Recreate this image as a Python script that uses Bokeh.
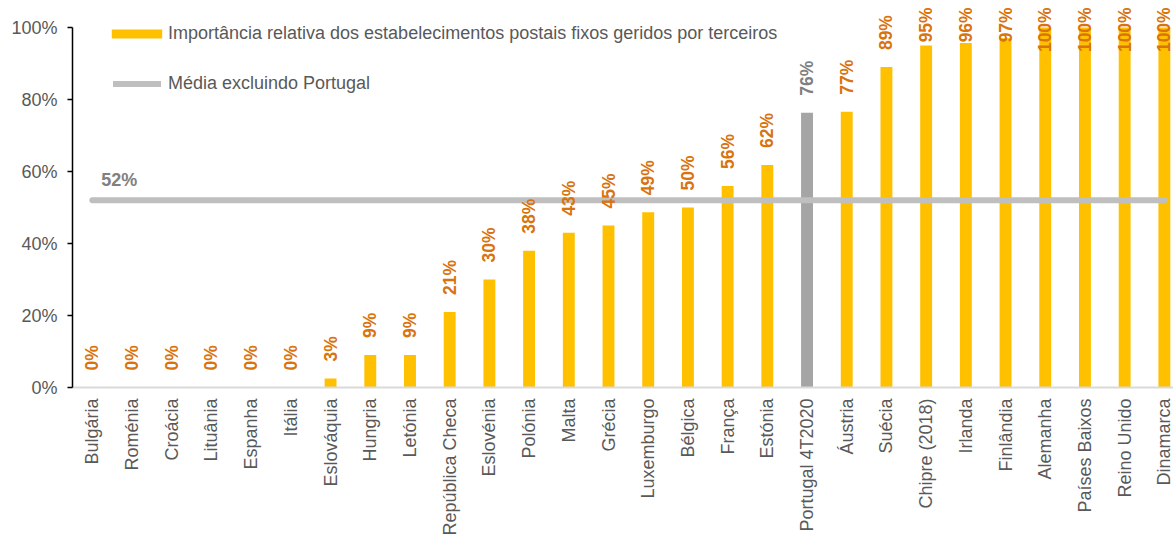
import math
from bokeh.plotting import figure
from bokeh.models import (Range1d, ColumnDataSource, Legend, LegendItem,
                          PrintfTickFormatter, FixedTicker)
from bokeh.core.properties import value
from bokeh.embed import file_html
from bokeh.resources import INLINE

# ---------------- data ----------------
countries = ["Bulgária", "Roménia", "Croácia", "Lituânia", "Espanha", "Itália",
             "Eslováquia", "Hungria", "Letónia", "República Checa", "Eslovénia",
             "Polónia", "Malta", "Grécia", "Luxemburgo", "Bélgica", "França",
             "Estónia", "Portugal 4T2020", "Áustria", "Suécia", "Chipre (2018)",
             "Irlanda", "Finlândia", "Alemanha", "Países Baixos", "Reino Unido",
             "Dinamarca"]
shares = [0, 0, 0, 0, 0, 0, 2.5, 9, 9, 21, 30, 38, 43, 45, 48.7, 50, 56, 61.8,
          76.3, 76.6, 89, 95, 95.7, 97, 100, 100, 100, 100]
share_labels = ["0%", "0%", "0%", "0%", "0%", "0%", "3%", "9%", "9%", "21%",
                "30%", "38%", "43%", "45%", "49%", "50%", "56%", "62%", "76%",
                "77%", "89%", "95%", "96%", "97%", "100%", "100%", "100%", "100%"]
average = 52
average_label = "52%"
highlight = "Portugal 4T2020"
y_ticks = [0, 20, 40, 60, 80, 100]
series_name = "Importância relativa dos estabelecimentos postais fixos geridos por terceiros"
average_name = "Média excluindo Portugal"

FONT = "Liberation Sans"
YELLOW = "#FFC000"
GREY_BAR = "#A5A5A5"
ORANGE = "#D9730D"
LABEL_GREY = "#595959"
VALUE_GREY = "#808080"

n = len(countries)
idx = list(range(n))

W, H = 1173, 538
Y_END = 107.5
p = figure(width=W, height=H, x_range=Range1d(-0.5, 27.23), y_range=Range1d(0, Y_END),
           output_backend="svg", toolbar_location=None,
           min_border_left=72, min_border_right=0, min_border_top=0, min_border_bottom=0)
p.outline_line_color = None
p.grid.visible = False
p.background_fill_color = "white"
p.border_fill_color = "white"

# axes
p.yaxis.ticker = FixedTicker(ticks=y_ticks)
p.yaxis.formatter = PrintfTickFormatter(format="%d%%")
p.yaxis.bounds = (0, 100)
p.yaxis.axis_line_color = "black"
p.yaxis.axis_line_width = 1.5
p.yaxis.major_tick_line_color = "black"
p.yaxis.major_tick_line_width = 1.5
p.yaxis.major_tick_out = 5
p.yaxis.major_tick_in = 0
p.yaxis.minor_tick_line_color = None
p.yaxis.major_label_text_font = FONT
p.yaxis.major_label_text_font_size = "18px"
p.yaxis.major_label_text_color = LABEL_GREY
p.yaxis.major_label_standoff = 10

p.xaxis.ticker = FixedTicker(ticks=idx)
p.xaxis.major_label_overrides = {i: c for i, c in enumerate(countries)}
p.xaxis.major_label_orientation = math.pi / 2
p.xaxis.axis_line_color = "#D9D9D9"
p.xaxis.axis_line_width = 2
p.xaxis.major_tick_line_color = None
p.xaxis.major_tick_out = 0
p.xaxis.major_tick_in = 0
p.xaxis.minor_tick_line_color = None
p.xaxis.major_label_text_font = FONT
p.xaxis.major_label_text_font_size = "18px"
p.xaxis.major_label_text_color = LABEL_GREY
p.xaxis.major_label_standoff = 11

# bars
main = [i for i in idx if countries[i] != highlight]
hl = [i for i in idx if countries[i] == highlight]
src_main = ColumnDataSource(dict(x=main, top=[shares[i] for i in main]))
src_hl = ColumnDataSource(dict(x=hl, top=[shares[i] for i in hl]))
bars = p.vbar(x="x", top="top", width=0.3, source=src_main, fill_color=YELLOW, line_color=None)
p.vbar(x="x", top="top", width=0.3, source=src_hl, fill_color=GREY_BAR, line_color=None)

# average line
avg_line = p.line(x=[idx[0], idx[-1]], y=[average, average], line_width=6,
                  line_color="#BFBFBF", line_cap="round")
p.text(x=[idx[0]], y=[average], text=[average_label], x_offset=9, y_offset=-20,
       text_font=value(FONT), text_font_size="18px", text_font_style="bold",
       text_color=VALUE_GREY, text_align="left", text_baseline="middle")

# bar value labels
frame_h = 387.0
ppu = frame_h / Y_END
CAP = 105.6
gap_px = 17
fs = 17.5
free = dict(x=[], y=[], t=[], c=[])
capped = dict(x=[], y=[], t=[], c=[])
for i in idx:
    lab = share_labels[i]
    col = VALUE_GREY if countries[i] == highlight else ORANGE
    len_px = fs * (0.556 * (len(lab) - 1) + 0.889)
    if shares[i] * ppu + gap_px + len_px > CAP * ppu:
        capped["x"].append(i); capped["y"].append(CAP); capped["t"].append(lab); capped["c"].append(col)
    else:
        free["x"].append(i); free["y"].append(shares[i]); free["t"].append(lab); free["c"].append(col)

common = dict(text_font=value(FONT), angle=math.pi / 2, text_baseline="middle",
              text_font_size="17.5px", text_font_style="bold", text_color="c")
p.text(x="x", y="y", text="t", source=ColumnDataSource(free), y_offset=-gap_px,
       text_align="left", **common)
p.text(x="x", y="y", text="t", source=ColumnDataSource(capped), y_offset=0,
       text_align="right", **common)

# legends
def make_legend(item, loc, gw, gh, standoff):
    return Legend(items=[item], location=loc, orientation="vertical",
                  glyph_width=gw, glyph_height=gh, label_standoff=standoff,
                  label_text_font=FONT, label_text_font_size="18px",
                  label_text_color=LABEL_GREY, label_height=20,
                  padding=0, margin=0, border_line_color=None,
                  background_fill_alpha=0, spacing=0)

p.add_layout(make_legend(LegendItem(label=series_name, renderers=[bars]),
                         (33, 343), 63, 11, 0))
p.add_layout(make_legend(LegendItem(label=average_name, renderers=[avg_line]),
                         (41, 293), 48, 11, 7))

open("out.html", "w").write(file_html(p, INLINE))
